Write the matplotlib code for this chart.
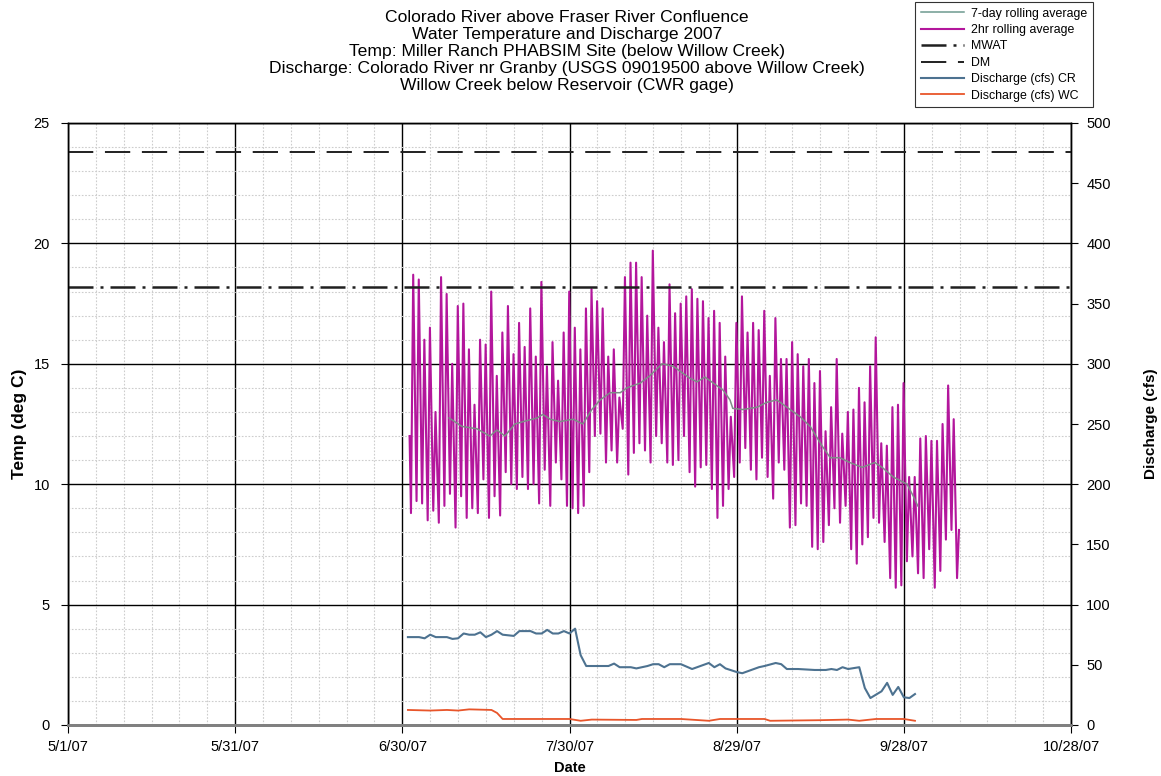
from datetime import datetime

import matplotlib
matplotlib.use("Agg")
import matplotlib.dates as mdates
import matplotlib.pyplot as plt
import numpy as np
from matplotlib.ticker import FixedLocator, MultipleLocator

plt.rcParams["font.family"] = ["Liberation Sans", "DejaVu Sans"]

# ---- data ----
start = datetime(2007, 5, 1)
x_tick_labels = ["5/1/07", "5/31/07", "6/30/07", "7/30/07", "8/29/07", "9/28/07", "10/28/07"]

# 2hr rolling average: daily lows/highs, first day 7/1/07
temp_first_value = 12.0
temp_last_value = 8.1
temp_daily_high = [
    18.7, 18.5, 16.0, 16.5, 13.0, 18.6, 17.9, 15.0, 17.4, 17.5, 15.6, 13.3,
    16.0, 15.8, 18.0, 14.5, 16.3, 17.4, 15.4, 16.7, 15.7, 17.3, 15.3, 18.4,
    14.9, 15.9, 14.3, 16.3, 18.0, 16.5, 15.6, 17.3, 18.1, 17.6, 17.3, 15.3,
    15.6, 13.6, 18.6, 19.2, 19.2, 18.6, 17.0, 19.7, 16.5, 15.9, 18.3, 17.1, 17.5,
    17.8, 18.1, 17.7, 17.6, 16.9, 17.2, 16.7, 15.3, 12.8, 16.7, 17.8, 16.3,
    16.7, 16.4, 17.2, 14.5, 16.9, 15.2, 15.2, 15.9, 15.4, 14.9, 15.2, 14.2, 14.7, 12.2,
    13.2, 15.2, 12.1, 13.0, 13.1, 14.0, 13.4, 14.9, 16.1, 11.7, 11.6, 13.2,
    13.3, 14.2, 10.3, 10.3, 11.9, 12.0, 11.8, 11.8, 12.5, 14.1, 12.7,
]
temp_daily_low = [
    8.8, 9.3, 9.2, 8.5, 8.9, 8.4, 9.1, 9.6, 8.2, 9.5, 8.6, 9.0,
    8.8, 10.2, 8.6, 9.5, 8.7, 10.5, 10.0, 9.8, 10.3, 9.8, 10.0, 9.2,
    10.6, 9.1, 10.9, 10.2, 9.1, 9.0, 8.8, 9.1, 10.5, 12.0, 12.1, 10.9,
    11.4, 10.9, 12.3, 10.4, 11.3, 11.7, 11.4, 10.9, 12.0, 11.7, 10.9, 10.8, 11.0,
    12.0, 10.5, 9.9, 10.7, 10.8, 9.8, 8.6, 9.1, 9.8, 10.3, 10.9, 11.5,
    10.6, 10.2, 11.1, 10.3, 9.4, 10.9, 10.6, 8.2, 8.3, 9.2, 9.1, 7.4, 7.3, 7.6,
    8.3, 9.0, 8.4, 9.1, 7.3, 6.7, 7.5, 7.8, 8.6, 8.4, 7.6, 6.1,
    5.7, 5.8, 6.8, 7.0, 6.3, 6.1, 7.3, 5.7, 6.4, 7.7, 8.1, 6.1,
]

# 7-day rolling average (days since 5/1/07, deg C)
avg7_days = [
    68.4, 70.7, 73.4, 75.7, 77.0, 78.4, 80.2, 81.7, 84.2, 85.2, 86.5, 88.3,
    90.6, 92.4, 94.0, 95.5, 97.3, 99.1, 100.3, 102.7, 104.4, 105.3, 106.6,
    108.6, 110.4, 111.6, 112.9, 114.3, 115.8, 117.6, 118.8, 119.3, 121.1,
    123.7, 125.4, 127.2, 129.6, 131.4, 133.2, 135.3, 136.8, 138.5, 140.3,
    142.5, 144.8, 146.1, 148.1, 150.6, 151.7, 152.5,
]
avg7_temp = [
    12.75, 12.4, 12.3, 12.0, 12.25, 12.0, 12.5, 12.6, 12.75, 12.9, 12.7, 12.6,
    12.7, 12.5, 13.1, 13.5, 13.8, 13.8, 14.0, 14.2, 14.5, 14.7, 15.0,
    14.9, 14.6, 14.4, 14.25, 14.45, 14.2, 13.9, 13.5, 13.15, 13.1,
    13.2, 13.4, 13.5, 13.1, 12.8, 12.4, 11.6, 11.1, 11.1, 10.9,
    10.7, 10.9, 10.7, 10.3, 10.0, 9.5, 9.1,
]

mwat = 18.2
dm = 23.8

# discharge (cfs), days since 5/1/07
cr_days = [
    61, 63, 64, 65, 66, 68, 69, 70, 71, 72, 73, 74, 75, 76, 77, 78, 80, 81,
    83, 84, 85, 86, 87, 88, 89, 90, 91, 92, 93, 95, 97, 98, 99, 101, 102, 104,
    105, 106, 107, 108, 110, 112, 115, 116, 117, 118, 120, 121, 124, 125, 127,
    128, 129, 131, 134, 136, 137, 138, 139, 140, 142, 143, 144, 146, 147, 148,
    149, 150, 151, 152,
]
cr_flow = [
    73, 73, 72, 75, 73, 73, 71.5, 72, 76, 75, 75, 77, 73, 75, 78, 75, 74, 78,
    78, 76, 76, 79, 76, 76, 78, 76, 80, 58, 49, 49, 49, 51, 48, 48, 47, 49,
    50.5, 50.5, 48, 50.5, 50.5, 46.5, 51.5, 48, 50.5, 47, 44, 43, 48, 49, 51.5,
    50.5, 46.5, 46.5, 45.7, 45.7, 46.5, 45.7, 48, 46.5, 48, 30.7, 22.4, 28, 35, 25,
    31.6, 23, 22.4, 25.7,
]
wc_days = [61, 65, 68, 70, 72, 76, 77, 78, 90, 92, 94, 102, 103, 110, 115, 117,
           125, 126, 135, 140, 142, 145, 150, 152]
wc_flow = [12.5, 12, 12.5, 12, 13, 12.5, 10, 5, 5, 3.5, 4.5, 4.2, 5, 5, 3.5, 5,
           5, 3.5, 4, 4.5, 3.5, 5, 5, 3.5]

# ---- build series ----
base = mdates.date2num(start)
first_day = 61  # 7/1/07
t2 = [base + first_day + 0.3]
v2 = [temp_first_value]
for i, (lo, hi) in enumerate(zip(temp_daily_low, temp_daily_high)):
    t2 += [base + first_day + i + 0.55, base + first_day + i + 0.95]
    v2 += [lo, hi]
n = len(temp_daily_high)
t2 += [base + first_day + n + 0.55, base + first_day + n + 0.9]
v2 += [temp_daily_low[-1], temp_last_value]

x_ticks = [mdates.date2num(datetime.strptime(s, "%m/%d/%y")) for s in x_tick_labels]

# ---- figure ----
fig = plt.figure(figsize=(11.61, 7.76), dpi=100)
ax = fig.add_axes([68 / 1161, 51 / 776, 1003 / 1161, 602 / 776])
ax2 = ax.twinx()

magenta = "#B3169C"
teal = "#6E9A90"
cr_col = "#4D7290"
wc_col = "#E8552A"

l2, = ax.plot(t2, v2, color=magenta, lw=1.5, zorder=3, label="2hr rolling average")
l7, = ax.plot(base + np.array(avg7_days), avg7_temp, color="#7F8C88", lw=1.1, zorder=4,
              label="7-day rolling average")
lm = ax.axhline(mwat, color="#202020", lw=1.8, ls=(0, (10, 2.8, 1.2, 2.8)), zorder=5, label="MWAT")
ld = ax.axhline(dm, color="#202020", lw=1.4, ls=(0, (13, 6)), zorder=5, label="DM")

lcr, = ax2.plot(base + np.array(cr_days), cr_flow, color=cr_col, lw=1.5, label="Discharge (cfs) CR")
lwc, = ax2.plot(base + np.array(wc_days), wc_flow, color=wc_col, lw=1.3, label="Discharge (cfs) WC")

ax.set_xlim(x_ticks[0], x_ticks[-1])
ax.set_ylim(0, 25)
ax2.set_ylim(0, 500)

ax.xaxis.set_major_locator(FixedLocator(x_ticks))
ax.xaxis.set_minor_locator(FixedLocator(np.arange(x_ticks[0], x_ticks[-1] + 1, 5)))
ax.set_xticklabels(x_tick_labels)
ax.yaxis.set_major_locator(MultipleLocator(5))
ax.yaxis.set_minor_locator(MultipleLocator(1))
ax2.yaxis.set_major_locator(MultipleLocator(50))

ax.set_axisbelow(True)
ax.grid(which="major", color="black", lw=1.0)
ax.grid(which="minor", color="#CDCDCD", lw=0.8, ls=(0, (1.5, 1.5)))

ax.tick_params(axis="x", which="major", direction="out", length=6, labelsize=10.5, pad=5)
ax.tick_params(axis="x", which="minor", length=0)
ax.tick_params(axis="y", which="major", direction="out", length=5, labelsize=10.5, pad=8)
ax.tick_params(axis="y", which="minor", length=0)
ax2.tick_params(axis="y", direction="out", length=5, labelsize=10.5, pad=6)

for a in (ax, ax2):
    for side in ("top", "left", "right"):
        a.spines[side].set_color("black")
        a.spines[side].set_linewidth(1.0)
    a.spines["bottom"].set_color("#808080")
    a.spines["bottom"].set_linewidth(2.0)

ax.set_xlabel("Date", fontsize=10.5, fontweight="bold", labelpad=5)
ax.set_ylabel("Temp (deg C)", fontsize=12.5, fontweight="bold", labelpad=5)
ax2.set_ylabel("Discharge (cfs)", fontsize=11, fontweight="bold", labelpad=24)

fig.text(567 / 1161, 1 - 10 / 776,
         "Colorado River above Fraser River Confluence\n"
         "Water Temperature and Discharge 2007\n"
         "Temp: Miller Ranch PHABSIM Site (below Willow Creek)\n"
         "Discharge: Colorado River nr Granby (USGS 09019500 above Willow Creek)\n"
         "Willow Creek below Reservoir (CWR gage)",
         ha="center", va="top", fontsize=12.6, linespacing=1.17)

leg = fig.legend([l7, l2, lm, ld, lcr, lwc],
                 [h.get_label() for h in (l7, l2, lm, ld, lcr, lwc)],
                 loc="upper right", bbox_to_anchor=(1093 / 1161, 1 - 2 / 776),
                 borderaxespad=0, fontsize=8.9, frameon=True, fancybox=False,
                 edgecolor="black", handlelength=3.5, labelspacing=0.36,
                 borderpad=0.45, handletextpad=0.6)
leg.get_frame().set_linewidth(0.8)
leg.get_lines()[0].set_color(teal)

fig.savefig("out.png", dpi=100)
